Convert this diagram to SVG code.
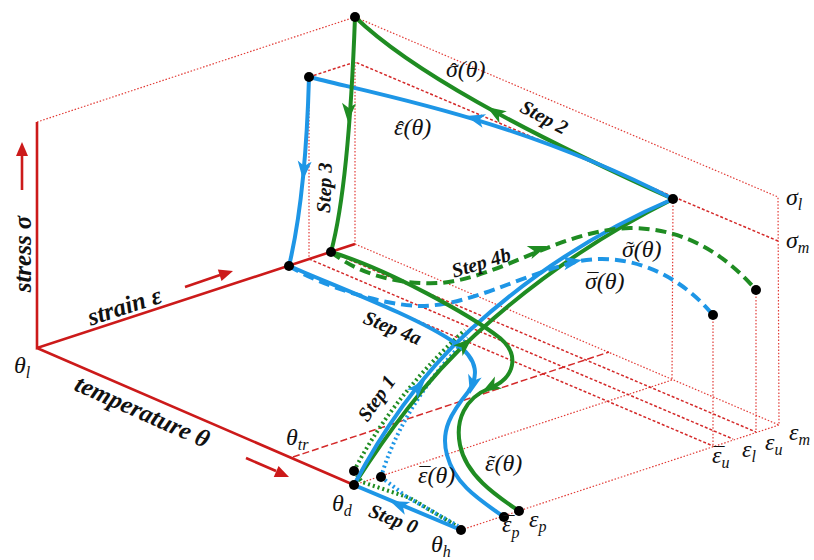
<svg xmlns="http://www.w3.org/2000/svg" width="814" height="560" viewBox="0 0 814 560">
<style>
.dot{fill:none;stroke:#e23b36;stroke-width:1.2;stroke-dasharray:1.5 1.8}
.dsh{fill:none;stroke:#d42a2a;stroke-width:1.5;stroke-dasharray:3 2}
.ddash{fill:none;stroke:#d42a2a;stroke-width:1.5;stroke-dasharray:7 3}
.axis{fill:none;stroke:#cc1a1a;stroke-width:2.6}
.b{fill:none;stroke:#1e96e6;stroke-width:4;stroke-linecap:round}
.g{fill:none;stroke:#1f8c22;stroke-width:4;stroke-linecap:round}
.bd{fill:none;stroke:#1e96e6;stroke-width:4;stroke-dasharray:11 6}
.gd{fill:none;stroke:#1f8c22;stroke-width:4;stroke-dasharray:11 6}
.bo{fill:none;stroke:#1e96e6;stroke-width:4;stroke-dasharray:2 3}
.go{fill:none;stroke:#1f8c22;stroke-width:4;stroke-dasharray:2 3}
.fb{fill:#1e96e6}.fg{fill:#1f8c22}.fr{fill:#cc1a1a}
.pt{fill:#000}
.m{font-family:"Liberation Serif","Times New Roman",serif;font-style:italic;font-size:24px;fill:#111}
.acc{font-style:normal;font-size:22px}
.sub{font-size:16px}
.st{font-family:"Liberation Serif","Times New Roman",serif;font-style:italic;font-weight:bold;font-size:20px;fill:#111}
.ax{font-family:"Liberation Serif","Times New Roman",serif;font-style:italic;font-weight:bold;font-size:25px;fill:#111}
</style>
<defs>
<path id="ah" d="M0,0 L-19,-7 L-14,0 L-19,7 Z"/>
<path id="rah" d="M0,0 L-14,-6 L-14,6 Z"/>
</defs>
<rect width="814" height="560" fill="#fff"/>

<g id="construction">
<path class="dot" d="M37,122 L355,17 L778,197 L779,425"/>
<path class="dsh" d="M309,77 L355,62 L778,241"/>
<path class="dot" d="M355,62 L355,244"/>
<path class="dot" d="M309,77 L309,259"/>
<path class="dot" d="M673,199 L672,380"/>
<path class="dot" d="M756,290 L756,432"/>
<path class="dot" d="M713,315 L713,446"/>
<path class="dot" d="M461,530 L779,425"/>
<path class="dot" d="M355,244 L779,425"/>
<path class="dot" d="M354,485 L672,380"/>
<path class="dsh" d="M289,266 L713,446"/>
<path class="dsh" d="M309,259 L733,439"/>
<path class="dsh" d="M331,252 L756,432"/>
<path class="ddash" d="M293,457 L609,352"/>
</g>

<g id="axes">
<path class="axis" d="M37,122 L37,348 L355,244"/>
<path class="axis" d="M37,348 L354,485"/>
<path class="axis" d="M22,190 L22,156"/>
<use href="#rah" class="fr" transform="translate(22,142) rotate(-90)"/>
<path class="axis" d="M185,287 L220,275"/>
<use href="#rah" class="fr" transform="translate(233,271) rotate(-18)"/>
<path class="axis" d="M246,458 L276,471"/>
<use href="#rah" class="fr" transform="translate(289,477) rotate(23.4)"/>
</g>

<g id="connectors">
<path class="go" d="M354,471 C375,430 410,380 465,330"/>
<path class="bo" d="M381,477 C395,430 425,380 468,338"/>
<path class="go" d="M354,471 L362,482 L410,498 L455,525"/>
<path class="bo" d="M381,477 L407,497 L458,526"/>
<path class="g" d="M354,485 C385,437 425,380 475,335 C535,280 605,233 673,199"/>
<path class="b" d="M354,485 C380,435 420,375 470,330 C530,275 600,230 673,199"/>
<path class="b" d="M461,530 L354,485"/>
<path class="g" d="M673,199 C520,130 410,70 355,17"/>
<path class="b" d="M673,199 C520,120 380,95 309,77"/>
<path class="g" d="M355,17 C352,100 345,200 331,252"/>
<path class="b" d="M309,77 C307,150 300,220 289,266"/>
<path class="gd" d="M331,252 C360,275 400,285 440,283 C500,278 560,230 630,228 C690,228 730,260 756,290"/>
<path class="bd" d="M289,266 C320,285 380,305 420,306 C470,306 520,275 580,261 C630,252 680,275 713,315"/>
<path class="g" d="M331,252 C390,270 470,315 500,338 C520,355 515,378 490,388 C465,398 455,420 460,445 C466,475 495,495 519,511"/>
<path class="b" d="M289,266 C340,288 420,318 455,343 C480,360 478,378 468,392 C452,412 440,430 447,455 C455,485 480,500 504,517"/>
<use href="#ah" class="fb" transform="translate(390,501) rotate(202.8)"/>
<use href="#ah" class="fb" transform="translate(425,380) rotate(-48)"/>
<use href="#ah" class="fg" transform="translate(472,338) rotate(-42)"/>
<use href="#ah" class="fb" transform="translate(466,116) rotate(195)"/>
<use href="#ah" class="fg" transform="translate(487,107) rotate(212)"/>
<use href="#ah" class="fb" transform="translate(303,180) rotate(95)"/>
<use href="#ah" class="fg" transform="translate(348,122) rotate(93)"/>
<use href="#ah" class="fb" transform="translate(470,394) rotate(105)"/>
<use href="#ah" class="fg" transform="translate(482,392) rotate(150)"/>
<use href="#ah" class="fg" transform="translate(547,246) rotate(-20)"/>
<use href="#ah" class="fb" transform="translate(582,260) rotate(-10)"/>
</g>

<g id="points">
<circle class="pt" cx="355" cy="17" r="5"/>
<circle class="pt" cx="309" cy="77" r="5"/>
<circle class="pt" cx="673" cy="199" r="5"/>
<circle class="pt" cx="289" cy="266" r="5"/>
<circle class="pt" cx="331" cy="252" r="5"/>
<circle class="pt" cx="756" cy="290" r="5"/>
<circle class="pt" cx="713" cy="315" r="5"/>
<circle class="pt" cx="354" cy="485" r="5"/>
<circle class="pt" cx="354" cy="471" r="5"/>
<circle class="pt" cx="381" cy="477" r="5"/>
<circle class="pt" cx="461" cy="530" r="5"/>
<circle class="pt" cx="504" cy="517" r="5"/>
<circle class="pt" cx="519" cy="511" r="5"/>
</g>

<g id="labels">
<text class="ax" text-anchor="middle" transform="translate(31,254) rotate(-90)">stress  σ</text>
<text class="ax" text-anchor="middle" transform="translate(127,314) rotate(-18)">strain  ε</text>
<text class="ax" text-anchor="middle" transform="translate(139,419) rotate(24)">temperature  θ</text>
<text class="st" text-anchor="middle" transform="translate(391,525) rotate(21)">Step 0</text>
<text class="st" text-anchor="middle" transform="translate(382,402) rotate(-55)">Step 1</text>
<text class="st" text-anchor="middle" transform="translate(541,123) rotate(28)">Step 2</text>
<text class="st" text-anchor="middle" transform="translate(331,188) rotate(-88)">Step 3</text>
<text class="st" text-anchor="middle" transform="translate(390,334) rotate(22)">Step 4a</text>
<text class="st" text-anchor="middle" transform="translate(483,269) rotate(-17)">Step 4b</text>
<text class="m" x="14" y="373">θ<tspan class="sub" dy="5">l</tspan></text>
<text class="m" x="286" y="445">θ<tspan class="sub" dy="5">tr</tspan></text>
<text class="m" x="332" y="511">θ<tspan class="sub" dy="5">d</tspan></text>
<text class="m" x="431" y="552">θ<tspan class="sub" dy="5">h</tspan></text>
<text class="m"><tspan class="acc" x="401" y="136" text-anchor="middle">ˆ</tspan><tspan x="394" y="135" text-anchor="start">ε(θ)</tspan></text>
<text class="m"><tspan class="acc" x="454" y="78" text-anchor="middle">ˆ</tspan><tspan x="446" y="77" text-anchor="start">σ(θ)</tspan></text>
<text class="m"><tspan class="acc" x="630" y="256" text-anchor="middle">˜</tspan><tspan x="622" y="257" text-anchor="start">σ(θ)</tspan></text>
<text class="m"><tspan class="acc" x="593" y="288" text-anchor="middle">¯</tspan><tspan x="585" y="289" text-anchor="start">σ(θ)</tspan></text>
<text class="m" x="786" y="205">σ<tspan class="sub" dy="5">l</tspan></text>
<text class="m" x="786" y="248">σ<tspan class="sub" dy="5">m</tspan></text>
<text class="m"><tspan class="acc" x="425" y="482" text-anchor="middle">¯</tspan><tspan x="418" y="483" text-anchor="start">ε(θ)</tspan></text>
<text class="m"><tspan class="acc" x="492" y="470" text-anchor="middle">˜</tspan><tspan x="485" y="471" text-anchor="start">ε(θ)</tspan></text>
<text class="m"><tspan class="acc" x="509" y="531" text-anchor="middle">¯</tspan><tspan x="502" y="532" text-anchor="start">ε</tspan><tspan class="sub" dy="6">p</tspan></text>
<text class="m" x="529" y="527">ε<tspan class="sub" dy="5">p</tspan></text>
<text class="m"><tspan class="acc" x="719" y="462" text-anchor="middle">¯</tspan><tspan x="712" y="463" text-anchor="start">ε</tspan><tspan class="sub" dy="5">u</tspan></text>
<text class="m" x="742" y="457">ε<tspan class="sub" dy="5">l</tspan></text>
<text class="m" x="765" y="450">ε<tspan class="sub" dy="5">u</tspan></text>
<text class="m" x="789" y="440">ε<tspan class="sub" dy="5">m</tspan></text>
</g>
</svg>
